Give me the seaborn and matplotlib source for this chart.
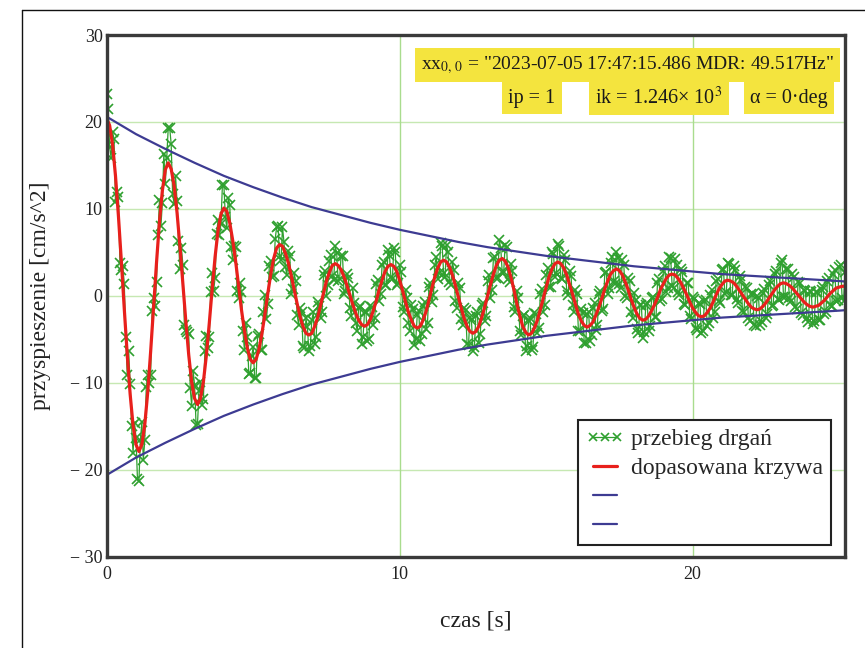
import numpy as np
import pandas as pd
import matplotlib
matplotlib.use("Agg")
import matplotlib.pyplot as plt
import seaborn as sns
from matplotlib.lines import Line2D

# ---------------- data ----------------
sample_step = 0.1  # s between samples of fit_curve / measured

fit_curve = [
    20.4, 19.6, 17.4, 13.8, 9.2, 4.0, -1.5, -6.7, -11.3, -14.9, -17.1, -17.9,
    -17.1, -14.8, -11.1, -6.4, -1.3, 3.8, 8.5, 12.1, 14.5, 15.3,
    14.6, 12.7, 9.6, 5.7, 1.4, -2.9, -6.8, -9.9, -11.8, -12.5,
    -11.8, -9.9, -6.9, -3.2, 0.8, 4.5, 7.5, 9.4, 10.1,
    9.7, 8.4, 6.4, 4.0, 1.2, -1.6, -4.0, -6.0, -7.3, -7.7,
    -7.3, -6.1, -4.3, -2.1, 0.3, 2.5, 4.3, 5.5, 5.9,
    5.7, 4.9, 3.8, 2.3, 0.7, -0.9, -2.4, -3.5, -4.3, -4.5,
    -4.3, -3.5, -2.5, -1.1, 0.3, 1.7, 2.7, 3.5, 3.7,
    3.5, 3.0, 2.2, 1.2, 0.1, -1.0, -2.0, -2.8, -3.3, -3.5,
    -3.3, -2.7, -1.7, -0.6, 0.7, 1.8, 2.8, 3.4, 3.6,
    3.4, 2.8, 1.8, 0.6, -0.7, -1.9, -2.8, -3.5, -3.7,
    -3.5, -2.8, -1.8, -0.5, 0.9, 2.2, 3.2, 3.9, 4.1,
    3.9, 3.3, 2.4, 1.2, -0.1, -1.4, -2.6, -3.5, -4.1, -4.3,
    -4.1, -3.5, -2.5, -1.3, 0.0, 1.3, 2.5, 3.5, 4.1, 4.3,
    4.0, 3.3, 2.1, 0.7, -0.9, -2.3, -3.5, -4.2, -4.5,
    -4.3, -3.7, -2.8, -1.6, -0.3, 1.0, 2.2, 3.1, 3.7, 3.9,
    3.7, 3.2, 2.4, 1.3, 0.2, -1.0, -2.1, -2.9, -3.4, -3.6,
    -3.4, -3.0, -2.2, -1.3, -0.3, 0.8, 1.7, 2.5, 2.9, 3.1,
    2.9, 2.4, 1.6, 0.7, -0.4, -1.3, -2.1, -2.6, -2.8,
    -2.7, -2.3, -1.7, -1.0, -0.2, 0.7, 1.4, 2.0, 2.4, 2.5,
    2.4, 2.0, 1.5, 0.8, 0.1, -0.7, -1.4, -1.9, -2.3, -2.4,
    -2.3, -1.9, -1.4, -0.7, 0.1, 0.8, 1.3, 1.7, 1.8,
    1.7, 1.5, 1.1, 0.6, 0.1, -0.4, -0.9, -1.3, -1.5, -1.6,
    -1.5, -1.2, -0.8, -0.3, 0.2, 0.7, 1.1, 1.4, 1.5,
    1.4, 1.2, 0.9, 0.5, 0.1, -0.3, -0.7, -1.0, -1.2, -1.3,
    -1.2, -1.1, -0.8, -0.5, -0.1, 0.3, 0.6, 0.9, 1.0, 1.1, 1.1,
]

# measured samples at t = k * 0.1 s
measured = [
    23.2, 17.1, 18.9, 10.8, 11.4, 3.0, 1.4, -9.1, -10.1, -18.1, -16.3, -21.3,
    -14.5, -16.6, -9.1, -9.1, -0.2, 1.6, 11.0, 10.7, 12.9, 19.3,
    17.5, 10.6, 10.9, 3.1, 3.6, -3.9, -4.4, -12.7, -10.3, -14.7,
    -9.9, -11.9, -4.6, -4.7, 2.6, 2.1, 8.7, 8.3, 12.7,
    7.8, 10.5, 4.1, 5.6, -0.2, 0.4, -6.2, -4.7, -8.9, -5.9,
    -9.4, -4.4, -6.2, 0.1, -0.9, 4.0, 2.3, 7.9, 4.6,
    7.9, 3.3, 5.2, 0.2, 2.6, -2.2, -1.4, -5.8, -2.6, -6.3,
    -2.8, -5.5, -0.7, -2.5, 2.4, 0.0, 4.0, 2.3, 5.7,
    1.7, 4.6, 0.2, 2.5, -1.4, 0.9, -3.1, -1.4, -5.5, -1.9,
    -5.2, -1.2, -3.4, 1.4, -0.6, 3.6, 1.2, 5.3, 2.2,
    5.5, 1.3, 3.5, -1.3, 0.7, -3.1, -1.0, -5.6, -2.2,
    -5.2, -1.2, -3.8, 1.0, -0.7, 3.6, 1.9, 6.1, 2.6,
    5.9, 1.6, 3.9, -0.6, 1.5, -2.7, -1.4, -5.5, -2.4, -6.3,
    -2.3, -5.4, -1.1, -2.9, 1.7, -0.2, 4.4, 2.1, 6.4, 2.7,
    5.9, 1.9, 3.7, -1.3, 0.6, -4.0, -2.3, -6.4, -2.9,
    -6.2, -2.0, -4.3, 0.2, -1.9, 2.4, 1.0, 5.0, 2.2, 6.0,
    2.1, 4.7, 0.6, 2.9, -1.1, 0.7, -4.0, -1.5, -5.4, -2.1,
    -5.2, -1.4, -3.9, 0.2, -1.7, 2.6, 0.2, 3.8, 1.7, 5.1,
    1.4, 4.1, 0.0, 2.1, -1.9, 0.3, -3.8, -1.1, -4.8,
    -1.1, -4.1, -0.2, -2.4, 1.5, -0.6, 2.9, 0.4, 4.5, 1.1,
    4.2, 0.5, 3.1, -0.9, 1.5, -2.3, -0.1, -3.7, -0.8, -4.3,
    -0.6, -3.5, 0.1, -2.5, 1.7, -0.6, 3.0, 0.2, 3.8,
    0.1, 3.4, -0.4, 2.3, -1.7, 1.0, -2.5, 0.2, -3.4, 0.0,
    -3.3, 0.3, -2.5, 1.3, -1.2, 2.5, -0.4, 3.8, -0.1,
    3.1, -0.3, 2.5, -1.3, 1.6, -2.0, 0.7, -2.6, 0.6, -3.2,
    0.4, -2.8, 0.7, -2.1, 1.7, -1.1, 2.5, -0.6, 3.3, -0.2, 2.8,
]

# measured samples half-way between, at t = (k + 0.5) * 0.1 s
measured_mid = [
    21.5, 15.9, 18.0, 11.9, 3.8, 3.4, -4.7, -6.3, -15.0, -14.6,
    -21.1, -16.6, -18.9, -10.5, -10.0, -1.7, -1.2, 7.0, 8.0, 16.3,
    15.9, 19.3, 11.7, 13.8, 6.3, 5.5, -3.3, -4.2, -10.6, -8.6,
    -14.8, -11.0, -12.6, -6.4, -6.0, 0.4, 0.6, 7.1, 7.0, 12.8,
    9.1, 11.3, 5.6, 5.7, 0.6, 1.5, -4.1, -3.1, -9.0, -6.9,
    -9.4, -4.6, -6.2, -1.8, -2.7, 3.4, 2.2, 6.5, 8.0, 4.1,
    6.2, 2.4, 4.6, 0.8, 1.7, -3.3, -1.8, -6.0, -3.6, -5.8,
    -1.9, -4.7, -1.2, -1.9, 2.9, 1.3, 4.7, 1.8, 4.9, 1.9,
    4.6, 0.6, 2.0, -2.3, -0.8, -4.0, -1.2, -4.7, -1.9, -5.0,
    -1.3, -2.6, 1.8, 0.2, 3.9, 1.2, 4.7, 1.9, 5.0, 1.5,
    2.7, -1.8, -0.3, -4.0, -1.5, -5.0, -1.7, -4.4, -0.7, -3.1,
    1.5, 0.1, 4.5, 2.6, 5.7, 2.2, 5.0, 1.3, 3.0, -1.4,
    0.9, -3.3, -1.6, -5.6, -2.8, -5.9, -1.9, -4.4, -0.8, -2.3,
    2.4, 0.7, 4.5, 2.0, 5.5, 2.7, 5.6, 1.6, 2.9, -1.9,
    -0.3, -4.5, -2.2, -5.8, -2.6, -5.9, -2.1, -3.7, 0.8, -1.0,
    3.2, 1.0, 4.8, 2.6, 5.7, 1.9, 4.1, 0.1, 2.3, -1.8,
    0.2, -4.1, -2.0, -5.4, -1.9, -4.5, -0.8, -3.3, 0.6, -1.5,
    2.8, 0.9, 4.5, 1.4, 4.4, 0.9, 3.6, -0.2, 1.7, -2.6,
    -0.5, -4.3, -1.1, -4.2, -0.8, -3.5, -0.1, -2.4, 1.9, -0.4,
    3.4, 0.9, 4.4, 0.9, 3.6, 0.1, 2.7, -1.0, 1.5, -2.7,
    -0.4, -3.9, -0.9, -4.1, -0.5, -3.1, 0.7, -1.8, 1.9, -0.8,
    3.1, 0.5, 3.7, 0.1, 3.0, -0.8, 1.8, -1.9, 0.9, -2.9,
    0.2, -3.5, -0.2, -3.0, 0.8, -2.1, 1.7, -1.0, 2.9, -0.5,
    4.1, -0.1, 3.1, -0.6, 2.2, -1.5, 1.5, -2.2, 0.6, -3.0,
    0.5, -2.9, 0.4, -2.8, 1.0, -1.8, 2.0, -1.2, 3.0, -0.5,
    3.6, -0.6,
]

env_time = [0, 1, 2, 3, 4, 5, 6, 7, 8, 9, 10, 11, 12, 13, 14, 15, 16, 17,
            18, 19, 20, 21, 22, 23, 24, 25, 25.2]
env_upper = [20.6, 18.6, 16.9, 15.3, 13.8, 12.5, 11.3, 10.2, 9.3, 8.4, 7.6,
             6.9, 6.2, 5.6, 5.1, 4.6, 4.2, 3.8, 3.4, 3.1, 2.8, 2.5, 2.3, 2.1,
             1.9, 1.7, 1.65]
env_lower = [-20.6, -18.6, -16.9, -15.3, -13.8, -12.5, -11.3, -10.2, -9.3,
             -8.4, -7.6, -6.9, -6.2, -5.6, -5.1, -4.6, -4.2, -3.8, -3.4, -3.1,
             -2.8, -2.5, -2.3, -2.1, -1.9, -1.7, -1.65]

x_ticks = [0, 10, 20]
x_tick_labels = ["0", "10", "20"]
y_ticks = [-30, -20, -10, 0, 10, 20, 30]
y_tick_labels = ["\u2212 30", "\u2212 20", "\u2212 10", "0", "10", "20", "30"]
legend_labels = ["przebieg drgań", "dopasowana krzywa", " ", " "]
x_label = "czas [s]"
y_label = "przyspieszenie [cm/s^2]"
info_line1 = 'xx$_{0,\\,0}$ = "2023-07-05 17:47:15.486 MDR: 49.517Hz"'
info_ip = "ip = 1"
info_ik = "ik = 1.246\u00d7 10$^{3}$"
info_alpha = "\u03b1 = 0\u00b7deg"

# ---------------- frames ----------------
t_fit = np.arange(len(fit_curve)) * sample_step
t_mid = (np.arange(len(measured_mid)) + 0.5) * sample_step
fit_df = pd.DataFrame({"t": t_fit, "fit": fit_curve})
meas_df = pd.concat([
    pd.DataFrame({"t": t_fit, "measured": measured}),
    pd.DataFrame({"t": t_mid, "measured": measured_mid}),
]).sort_values("t").reset_index(drop=True)
env = pd.DataFrame({"t": env_time, "upper": env_upper, "lower": env_lower})

# ---------------- style ----------------
sns.set_theme(style="white")
plt.rcParams["font.family"] = ["Liberation Serif", "DejaVu Serif"]
plt.rcParams["mathtext.fontset"] = "stix"

W, H = 865, 648
fig = plt.figure(figsize=(W / 100, H / 100), dpi=100)
fig.patch.set_facecolor("white")

left, right, top, bottom = 106.7, 845.0, 35.0, 556.7
ax = fig.add_axes([left / W, 1 - bottom / H, (right - left) / W, (bottom - top) / H])
ax.set_facecolor("white")

GREEN = "#2fa02f"
RED = "#e8201c"
BLUE = "#3d3b92"

sns.lineplot(data=meas_df, x="t", y="measured", ax=ax, color=GREEN, lw=0.9,
             marker="x", markersize=6.5, markeredgewidth=1.2,
             markeredgecolor=GREEN, sort=False, zorder=3, legend=False)
sns.lineplot(data=fit_df, x="t", y="fit", ax=ax, color=RED, lw=2.3,
             sort=False, zorder=4, legend=False)
sns.lineplot(data=env, x="t", y="upper", ax=ax, color=BLUE, lw=1.6,
             sort=False, zorder=5, legend=False)
sns.lineplot(data=env, x="t", y="lower", ax=ax, color=BLUE, lw=1.6,
             sort=False, zorder=5, legend=False)

ax.set_xlim(0, 25.2)
ax.set_ylim(-30, 30)
ax.set_xticks(x_ticks)
ax.set_xticklabels(x_tick_labels)
ax.set_yticks(y_ticks)
ax.set_yticklabels(y_tick_labels)
ax.tick_params(axis="both", length=0, labelsize=13, colors="#222222")
ax.tick_params(axis="y", pad=3)
ax.tick_params(axis="x", pad=7)

# grid lines (Mathcad style, pale green)
for yv in [-20, -10, 0, 10, 20]:
    ax.axhline(yv, color="#c6e8b2", lw=1.0, zorder=1)
for xv in [10, 20]:
    ax.axvline(xv, color="#a9dc8e", lw=1.0, zorder=1)

for s in ax.spines.values():
    s.set_visible(True)
    s.set_color("#3a3a3a")
    s.set_linewidth(2.4)
    s.set_zorder(6)

ax.set_xlabel(x_label, fontsize=17, color="#222222")
ax.set_ylabel(y_label, fontsize=17, color="#222222")
ax.xaxis.set_label_coords(0.5, (bottom - 610) / (bottom - top))
ax.yaxis.set_label_coords((51 - left) / (right - left), 0.5)

# legend
handles = [
    Line2D([], [], color=GREEN, lw=0.9, marker="x", markersize=6, markeredgewidth=1.2),
    Line2D([], [], color=RED, lw=2.3),
    Line2D([], [], color=BLUE, lw=1.6),
    Line2D([], [], color=BLUE, lw=1.6),
]
leg = ax.legend(handles, legend_labels, loc="upper left",
                bbox_to_anchor=((578 - left) / (right - left), (bottom - 420) / (bottom - top)),
                borderaxespad=0, fontsize=17, numpoints=3, handlelength=1.6,
                handletextpad=0.3, labelspacing=0.32, borderpad=0.35,
                fancybox=False, framealpha=1, edgecolor="#222222")
leg.get_frame().set_linewidth(1.5)
leg.set_zorder(7)

# info annotations with yellow highlight
YEL = "#f4e43e"
bb = dict(boxstyle="square,pad=0.3", facecolor=YEL, edgecolor="none")
fig.text(834 / W, 1 - 65 / H, info_line1, ha="right", va="center", fontsize=14,
         color="#1a1a1a", bbox=bb, zorder=8)
fig.text(532 / W, 1 - 98 / H, info_ip, ha="center", va="center", fontsize=14.5,
         color="#1a1a1a", bbox=dict(boxstyle="square,pad=0.3", facecolor=YEL, edgecolor="none"), zorder=8)
fig.text(659 / W, 1 - 98 / H, info_ik, ha="center", va="center", fontsize=14.5,
         color="#1a1a1a", bbox=dict(boxstyle="square,pad=0.3", facecolor=YEL, edgecolor="none"), zorder=8)
fig.text(789 / W, 1 - 98 / H, info_alpha, ha="center", va="center", fontsize=14.5,
         color="#1a1a1a", bbox=dict(boxstyle="square,pad=0.3", facecolor=YEL, edgecolor="none"), zorder=8)

# outer page frame (left and top rules)
fig.add_artist(Line2D([22 / W, 22 / W], [0, 1 - 10 / H], transform=fig.transFigure,
                      color="#111111", lw=1.0))
fig.add_artist(Line2D([22 / W, 1.0], [1 - 10 / H, 1 - 10 / H], transform=fig.transFigure,
                      color="#111111", lw=1.0))

fig.savefig("out.png", dpi=100, facecolor="white")
